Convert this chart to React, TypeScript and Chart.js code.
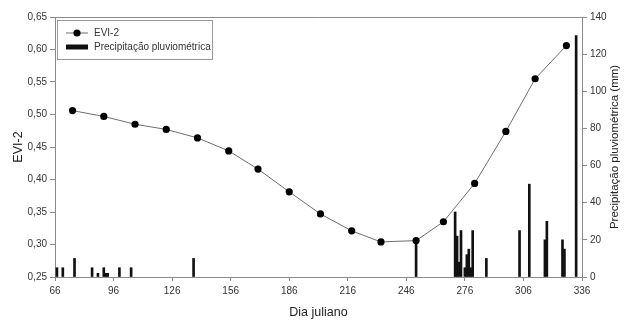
import React, { useEffect, useRef } from "react";
import { Chart, registerables } from "chart.js";

Chart.register(...registerables);

// EVI-2 series (Julian day, index value)
const eviDays = [75, 91, 107, 123, 139, 155, 170, 186, 202, 218, 233, 251, 265, 281, 297, 312, 328];
const eviValues = [0.506, 0.497, 0.485, 0.477, 0.464, 0.444, 0.416, 0.381, 0.347, 0.321, 0.304, 0.306, 0.335, 0.394, 0.474, 0.555, 0.606];

// Rainfall series (Julian day, mm)
const rainDays = [67, 70, 76, 85, 88, 91, 92, 93, 99, 105, 137, 251, 271, 272, 273, 274, 276, 277, 278, 279, 280, 287, 304, 309, 317, 318, 326, 327, 333];
const rainValues = [5, 5, 10, 5, 2, 5, 2, 2, 5, 5, 10, 20, 35, 22, 8, 25, 5, 12, 15, 5, 25, 10, 25, 50, 20, 30, 20, 15, 130];

const xTitle = "Dia juliano";
const yTitle = "EVI-2";
const y1Title = "Precipitação pluviométrica (mm)";
const eviLabel = "EVI-2";
const rainLabel = "Precipitação pluviométrica";

const FONT = "'Liberation Sans', Arial, Helvetica, sans-serif";
const AXIS = "#8a8a8a";
const TXT = "#333333";

export default function App() {
  const ref = useRef<HTMLCanvasElement>(null);

  useEffect(() => {
    const canvas = ref.current;
    if (!canvas) return;

    const framePlugin = {
      id: "frameAndLegend",
      afterDraw(chart: any) {
        const { ctx, chartArea } = chart;
        ctx.save();
        // top border
        ctx.strokeStyle = AXIS;
        ctx.lineWidth = 1;
        ctx.beginPath();
        ctx.moveTo(chartArea.left, chartArea.top + 0.5);
        ctx.lineTo(chartArea.right, chartArea.top + 0.5);
        ctx.stroke();

        // right axis title, reading bottom-to-top
        ctx.save();
        ctx.translate(chart.width - 14, (chartArea.top + chartArea.bottom) / 2);
        ctx.rotate(-Math.PI / 2);
        ctx.font = `11.5px ${FONT}`;
        ctx.fillStyle = "#222";
        ctx.textAlign = "center";
        ctx.textBaseline = "middle";
        ctx.fillText(y1Title, 0, 0);
        ctx.restore();

        // legend box
        const bx = chartArea.left + 2;
        const by = chartArea.top + 3;
        const bw = 155;
        const bh = 39;
        ctx.strokeStyle = "#999999";
        ctx.strokeRect(bx + 0.5, by + 0.5, bw, bh);

        const ds0 = chart.data.datasets[0];
        const ds1 = chart.data.datasets[1];
        // entry 1: line + marker
        const y1 = by + 13;
        ctx.strokeStyle = "#6e6e6e";
        ctx.lineWidth = 1;
        ctx.beginPath();
        ctx.moveTo(bx + 9, y1);
        ctx.lineTo(bx + 31, y1);
        ctx.stroke();
        ctx.fillStyle = "#000";
        ctx.beginPath();
        ctx.arc(bx + 20, y1, 3.6, 0, Math.PI * 2);
        ctx.fill();
        ctx.font = `10px ${FONT}`;
        ctx.fillStyle = TXT;
        ctx.textBaseline = "middle";
        ctx.textAlign = "left";
        ctx.fillText(ds0.label, bx + 37, y1);
        // entry 2: bar swatch
        const y2 = by + 27;
        ctx.fillStyle = "#111";
        ctx.fillRect(bx + 9, y2 - 2.5, 22, 5);
        ctx.fillStyle = TXT;
        ctx.fillText(ds1.label, bx + 37, y2);
        ctx.restore();
      },
    };

    const tickFont = { family: FONT, size: 10 };

    const chart = new Chart(canvas, {
      type: "bar",
      data: {
        datasets: [
          {
            type: "line",
            label: eviLabel,
            data: eviDays.map((d, i) => ({ x: d, y: eviValues[i] })),
            yAxisID: "y",
            borderColor: "#6e6e6e",
            borderWidth: 1,
            pointRadius: 3.6,
            pointBackgroundColor: "#000",
            pointBorderColor: "#000",
            pointBorderWidth: 0,
            tension: 0,
            order: 0,
          } as any,
          {
            type: "bar",
            label: rainLabel,
            data: rainDays.map((d, i) => ({ x: d, y: rainValues[i] })),
            yAxisID: "y1",
            backgroundColor: "#111",
            borderWidth: 0,
            barThickness: 2,
            grouped: false,
            order: 1,
          } as any,
        ],
      },
      options: {
        animation: false,
        responsive: false,
        maintainAspectRatio: false,
        layout: { padding: { top: 17, left: 0, right: 0, bottom: 0 } },
        plugins: {
          legend: { display: false },
          tooltip: { enabled: false },
        },
        scales: {
          x: {
            type: "linear",
            min: 66,
            max: 336,
            offset: false,
            ticks: {
              stepSize: 30,
              font: tickFont,
              color: TXT,
              padding: 4,
              maxRotation: 0,
              autoSkip: false,
            },
            grid: {
              offset: false,
              drawOnChartArea: false,
              drawTicks: true,
              tickLength: 4,
              color: AXIS,
            },
            border: { display: true, color: AXIS, width: 1 },
            title: {
              display: true,
              text: xTitle,
              font: { family: FONT, size: 12.5 },
              color: "#222",
              padding: { top: 0, bottom: 0 },
            },
            afterFit: (s: any) => {
              s.height = 43;
            },
          } as any,
          y: {
            type: "linear",
            position: "left",
            min: 0.25,
            max: 0.65,
            ticks: {
              stepSize: 0.05,
              font: tickFont,
              color: TXT,
              padding: 3,
              callback: (v: any) => Number(v).toFixed(2).replace(".", ","),
            },
            grid: {
              drawOnChartArea: false,
              drawTicks: true,
              tickLength: 5,
              color: AXIS,
            },
            border: { display: true, color: AXIS, width: 1 },
            title: {
              display: true,
              text: yTitle,
              font: { family: FONT, size: 12.5 },
              color: "#222",
              padding: { top: 11, bottom: 0 },
            },
            afterFit: (s: any) => {
              s.width = 55;
            },
          } as any,
          y1: {
            type: "linear",
            position: "right",
            min: 0,
            max: 140,
            ticks: {
              stepSize: 20,
              font: tickFont,
              color: TXT,
              padding: 3,
            },
            grid: {
              drawOnChartArea: false,
              drawTicks: true,
              tickLength: 5,
              color: AXIS,
            },
            border: { display: true, color: AXIS, width: 1 },
            title: { display: false, text: y1Title },
            afterFit: (s: any) => {
              s.width = 47;
            },
          } as any,
        },
      },
      plugins: [framePlugin],
    });

    return () => chart.destroy();
  }, []);

  return (
    <div
      style={{
        position: "fixed",
        left: 0,
        top: 0,
        width: 629,
        height: 320,
        background: "#fff",
      }}
    >
      <canvas
        ref={ref}
        width={629}
        height={320}
        style={{ display: "block", width: 629, height: 320 }}
      />
    </div>
  );
}
